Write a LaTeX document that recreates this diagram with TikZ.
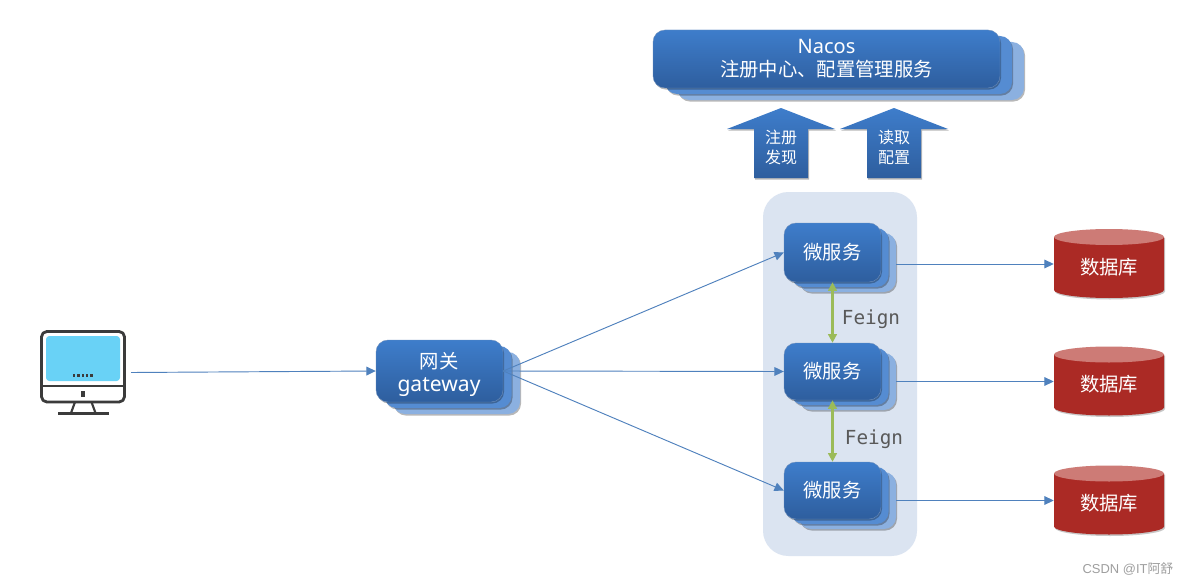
\documentclass[tikz,border=0pt]{standalone}
\usepackage{fontspec}
\setmainfont{Noto Sans}
\newfontfamily\cjk{Noto Sans CJK SC}
\newfontfamily\monofam{DejaVu Sans Mono}
\newfontfamily\wmfam{Liberation Sans}
\usetikzlibrary{shapes.geometric,arrows.meta,shadows,calc}
\definecolor{bluetop}{HTML}{3E7DCB}
\definecolor{bluebot}{HTML}{2E5E9E}
\definecolor{bluemid}{HTML}{558CD2}
\definecolor{blueback}{HTML}{8BB0E0}
\definecolor{groupbg}{HTML}{DBE4F1}
\definecolor{link}{HTML}{4F81BD}
\definecolor{feign}{HTML}{9BBB59}
\definecolor{dbred}{HTML}{AB2A25}
\definecolor{dbtop}{HTML}{CD7B76}
\definecolor{monline}{HTML}{3B3B3B}
\definecolor{screen}{HTML}{69D2F6}
\tikzset{
  softshadow/.style={drop shadow={shadow xshift=0.8pt,shadow yshift=-1.2pt,opacity=.28,fill=black}},
  stackbase/.style={rounded corners=9pt,inner sep=0pt,align=center,text=white,font=\fontsize{15pt}{17.5pt}\selectfont,softshadow},
  stackfront/.style={stackbase,top color=bluetop,bottom color=bluebot,draw=bluebot!70!white,line width=.3pt},
  stackmid/.style={stackbase,fill=bluemid},
  stackback/.style={stackbase,fill=blueback},
  linkline/.style={draw=link,line width=.7pt,-{Triangle[length=7pt,width=6.5pt,fill=link]}},
  feignline/.style={draw=feign,line width=1.9pt,{Triangle[length=6.5pt,width=6.5pt,fill=feign]}-{Triangle[length=6.5pt,width=6.5pt,fill=feign]}},
  feignlabel/.style={text=black!65,font=\monofam\fontsize{14.5pt}{16pt}\selectfont,inner sep=0pt},
  dbnode/.style={minimum width=82.5pt,minimum height=51pt,inner sep=0pt},
  dblabel/.style={inner sep=0pt,text=white,font=\cjk\fontsize{14.5pt}{17pt}\selectfont},
  gwlabel/.style={inner sep=0pt,text=white,align=center,font=\fontsize{15.8pt}{17.5pt}\selectfont},
  uparrow/.style={top color=bluetop,bottom color=bluebot,draw=none,softshadow},
  uplabel/.style={text=white,align=center,inner sep=0pt,font=\cjk\fontsize{12pt}{15pt}\selectfont},
  monitorline/.style={draw=monline,line width=2.1pt,line join=round}
}
% name, center x, y, width, height, dx, dy, text
\newcommand{\stackbox}[8]{%
  \node[stackback,minimum width=#4*.75pt,minimum height=#5*.75pt] (#1b) at (#2+2*#6,#3+2*#7) {};
  \node[stackmid,minimum width=#4*.75pt,minimum height=#5*.75pt] (#1m) at (#2+#6,#3+#7) {};
  \node[stackfront,minimum width=#4*.75pt,minimum height=#5*.75pt] (#1) at (#2,#3) {#8};
}
% name, center y
\newcommand{\dbcyl}[2]{%
  \fill[black,opacity=.22] (1055,#2-26) -- (1055,#2+27.5) arc[start angle=180,end angle=0,x radius=55,y radius=8] -- (1165,#2-26) -- cycle;
  \fill[dbred] (1054,#2-27) -- (1054,#2+26) arc[start angle=180,end angle=0,x radius=55,y radius=8] -- (1164,#2-27) -- cycle;
  \fill[dbtop] (1109,#2-27) ellipse[x radius=55,y radius=8];
  \node[dbnode] (#1) at (1109,#2) {};
  \node[dblabel] (#1t) at (1109,#2+3) {数据库};
}
\begin{document}
\begin{tikzpicture}[x=.75pt,y=-.75pt]
\useasboundingbox (0,0) rectangle (1188,585);
\fill[white] (0,0) rectangle (1188,585);

% group background
\node[fill=groupbg,rounded corners=19pt,minimum width=115.5pt,minimum height=273pt,inner sep=0pt] (grp) at (840,374) {};

% stacks
\stackbox{nacos}{826.5}{59}{347}{58}{12}{6}{Nacos\\[-0.1pt]{\cjk\fontsize{14.5pt}{17.5pt}\selectfont 注册中心、配置管理服务}}
\stackbox{gw}{439.5}{371}{127}{62}{8.5}{6}{}
\node[gwlabel] (gwt) at (439,374.6) {{\cjk\fontsize{14.5pt}{17.5pt}\selectfont 网关}\\[-0.2pt]gateway};
\stackbox{msa}{832.5}{252.5}{97}{59}{7.5}{5}{\cjk\fontsize{14.5pt}{17.5pt}\selectfont\raisebox{-.5pt}{微服务}}
\stackbox{msb}{832.5}{371.5}{97}{57}{7.5}{5}{\cjk\fontsize{14.5pt}{17.5pt}\selectfont\raisebox{-.5pt}{微服务}}
\stackbox{msc}{832.5}{490.5}{97}{57}{7.5}{5}{\cjk\fontsize{14.5pt}{17.5pt}\selectfont\raisebox{-.5pt}{微服务}}

% up arrows
\path[uparrow] (781,108) -- (835,129) -- (808,129) -- (808,178) -- (754,178) -- (754,129) -- (727,129) -- cycle;
\path[uparrow] (894,108) -- (948,129) -- (921,129) -- (921,178) -- (867,178) -- (867,129) -- (840,129) -- cycle;
\node[uplabel] (regl) at (781,147) {注册\\发现};
\node[uplabel] (cfgl) at (894,147) {读取\\配置};

% databases
\dbcyl{dba}{264}
\dbcyl{dbb}{381.5}
\dbcyl{dbc}{500.5}

% monitor
\coordinate (pc) at (131,372.5);
\draw[monitorline,fill=white,rounded corners=4pt] (41.5,331.5) rectangle (124.5,402);
\fill[screen,rounded corners=2.5pt] (46,336) rectangle (120,381);
\draw[monline,line width=1.5pt] (41.5,385.5) -- (124.5,385.5);
\fill[monline] (81,391) rectangle (85,396.5);
\foreach \dx in {73,77.3,81.6,85.9,90.2} \fill[monline] (\dx,373.7) rectangle +(2.4,2.8);
\draw[monline,line width=1.6pt] (75,402) -- (71,413) (91.5,402) -- (95.5,413);
\draw[monline,line width=1.8pt] (58,413.5) -- (109,413.5);

% connectors
\draw[linkline] (pc) -- (gw.west);
\draw[linkline] (gw.east) -- (msa.west);
\draw[linkline] (gw.east) -- (msb.west);
\draw[linkline] (gw.east) -- (msc.west);
\draw[linkline] ($(msab.east)+(0,1.5)$) -- (dba.west);
\draw[linkline] (msbb.east) -- (dbb.west);
\draw[linkline] (mscb.east) -- (dbc.west);
\draw[feignline] (msa.south) -- (msb.north);
\draw[feignline] (msb.south) -- (msc.north);
\node[feignlabel] (fa) at (871,319) {Feign};
\node[feignlabel] (fb) at (874,439) {Feign};

% watermark
\node[text=black!38,inner sep=0pt,font=\wmfam\fontsize{9.7pt}{11pt}\selectfont] (wm) at (1128,569) {CSDN @IT{\cjk 阿舒}};
\end{tikzpicture}
\end{document}
